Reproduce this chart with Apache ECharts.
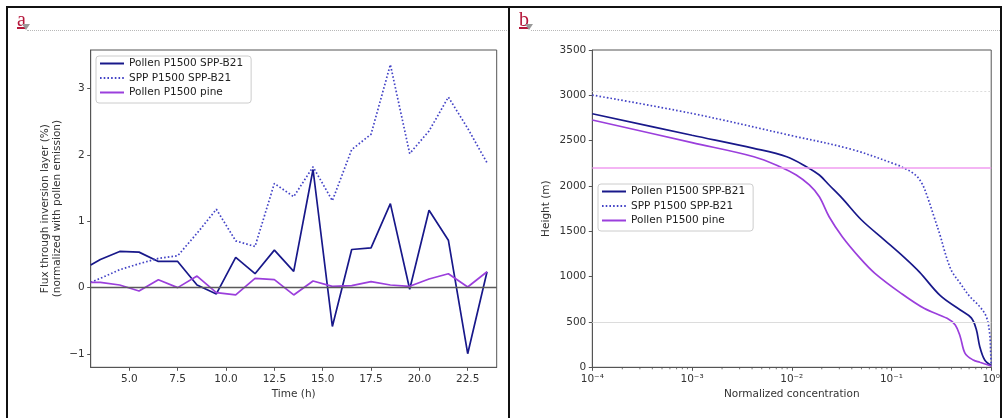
<!DOCTYPE html>
<html><head><meta charset="utf-8">
<script src="https://cdn.jsdelivr.net/npm/echarts@6/dist/echarts.min.js"></script>
<style>
html,body{margin:0;padding:0;background:#fff;width:1003px;height:418px;overflow:hidden;}
#chart{position:absolute;left:0;top:0;width:1003px;height:418px;}
.ln{position:absolute;background:#111;}
.lbl{position:absolute;font-family:'Liberation Serif',serif;font-size:20px;color:#b5173b;text-decoration:underline;line-height:20px;}
.tri{position:absolute;width:0;height:0;border-left:4px solid transparent;border-right:4px solid transparent;border-top:6px solid #9a9a9a;}
.dot{position:absolute;height:0;border-top:1px dotted #b8b8b8;}
</style></head><body>
<div id="chart"></div>
<div class="dot" style="left:27px;top:30px;width:480px;"></div>
<div class="dot" style="left:531px;top:30px;width:469px;"></div>
<div class="lbl" style="left:17px;top:9px;">a</div>
<div class="tri" style="left:22px;top:24px;"></div>
<div class="lbl" style="left:519px;top:9px;">b</div>
<div class="tri" style="left:525px;top:24px;"></div>
<div style="position:absolute;left:1002px;top:0;width:2px;height:418px;background:#fff;"></div>
<div class="ln" style="left:6px;top:6px;width:996px;height:2px;"></div>
<div class="ln" style="left:6px;top:6px;width:2px;height:420px;"></div>
<div class="ln" style="left:508px;top:6px;width:1.5px;height:420px;"></div>
<div class="ln" style="left:1000px;top:6px;width:2px;height:420px;"></div>
<script>
// ---- Panel a: flux through inversion layer ----
const hours = [3.0, 3.5, 4.5, 5.5, 6.5, 7.5, 8.5, 9.5, 10.5, 11.5, 12.5, 13.5, 14.5, 15.5, 16.5, 17.5, 18.5, 19.5, 20.5, 21.5, 22.5, 23.5];
const fluxPollenSppB21 = [0.34, 0.425, 0.545, 0.535, 0.395, 0.395, 0.04, -0.095, 0.455, 0.21, 0.565, 0.245, 1.78, -0.585, 0.575, 0.6, 1.265, -0.025, 1.165, 0.715, -0.995, 0.24];
const fluxSppSppB21 = [0.08, 0.14, 0.27, 0.36, 0.44, 0.48, 0.82, 1.18, 0.705, 0.62, 1.57, 1.37, 1.82, 1.31, 2.08, 2.31, 3.36, 2.02, 2.36, 2.87, 2.4, 1.88];
const fluxPollenPine = [0.08, 0.08, 0.04, -0.05, 0.12, 0.0, 0.175, -0.075, -0.11, 0.14, 0.12, -0.11, 0.1, 0.02, 0.03, 0.09, 0.04, 0.02, 0.13, 0.21, 0.01, 0.24];
const timeTicks = [5, 7.5, 10, 12.5, 15, 17.5, 20, 22.5];
const fluxTicks = [-1, 0, 1, 2, 3];

// ---- Panel b: vertical profiles ----
const concPollenSppB21 = [0.0001, 0.001, 0.00417, 0.00891, 0.014, 0.0189, 0.0237, 0.0321, 0.0501, 0.0851, 0.135, 0.191, 0.309, 0.49, 0.631, 0.708, 0.767, 0.861, 1.0];
const heightPollenSppB21 = [2797, 2560, 2415, 2323, 2213, 2121, 2011, 1864, 1625, 1404, 1210, 1050, 790, 632, 545, 420, 230, 80, 20];
const concSppSppB21 = [0.0001, 0.001, 0.01, 0.0398, 0.115, 0.135, 0.158, 0.182, 0.204, 0.229, 0.267, 0.31, 0.339, 0.372, 0.407, 0.489, 0.612, 0.769, 0.893, 0.964, 0.989, 1.0];
const heightSppSppB21 = [3003, 2800, 2555, 2404, 2231, 2195, 2155, 2100, 2020, 1882, 1661, 1441, 1290, 1150, 1050, 926, 779, 668, 558, 375, 150, 15];
const concPollenPine = [0.0001, 0.001, 0.00417, 0.00762, 0.0111, 0.015, 0.0189, 0.0237, 0.0321, 0.0486, 0.0682, 0.125, 0.212, 0.361, 0.436, 0.489, 0.547, 0.661, 0.769, 1.0];
const heightPollenPine = [2728, 2478, 2323, 2213, 2121, 2011, 1882, 1661, 1441, 1202, 1037, 816, 651, 540, 467, 338, 154, 80, 55, 14];
const inversionHeight = 2200;
const refLineHeights = [500, 3050];
const concTickLabels = ['10\u207B\u2074', '10\u207B\u00B3', '10\u207B\u00B2', '10\u207B\u00B9', '10\u2070'];
const concMinorTicks = [];
for (let d = -4; d < 0; d++) for (let k = 2; k <= 9; k++) concMinorTicks.push(k * Math.pow(10, d));

const names = ['Pollen P1500 SPP-B21', 'SPP P1500 SPP-B21', 'Pollen P1500 pine'];
const colors = ['#18188a', '#4343c6', '#9b3fdc'];
const FONT = 'DejaVu Sans';
const AX = '#555';
const TXT = '#333';

function zip(a, b) { return a.map((v, i) => [v, b[i]]); }
function minus(v) { return v < 0 ? '\u2212' + Math.abs(v) : String(v); }

const axisCommon = {
  axisLine: { show: true, onZero: false, lineStyle: { color: AX, width: 1 } },
  axisTick: { show: true, length: 3.5, lineStyle: { color: AX, width: 1 } },
  axisLabel: { fontFamily: FONT, fontSize: 10.5, color: TXT, margin: 6 },
  splitLine: { show: false },
  nameTextStyle: { fontFamily: FONT, fontSize: 10.5, color: TXT }
};
function ax(extra) {
  const o = JSON.parse(JSON.stringify(axisCommon));
  for (const k in extra) {
    if (typeof extra[k] === 'object' && !Array.isArray(extra[k]) && o[k]) Object.assign(o[k], extra[k]);
    else o[k] = extra[k];
  }
  return o;
}
const legendCommon = {
  orient: 'vertical', itemWidth: 24, itemHeight: 12, itemGap: 3.5,
  padding: [2, 8, 5, 3], backgroundColor: '#fff', borderColor: '#ccc', borderWidth: 1, borderRadius: 3,
  itemStyle: { opacity: 0, color: 'rgba(0,0,0,0)', borderColor: 'rgba(0,0,0,0)', borderWidth: 0 },
  textStyle: { fontFamily: FONT, fontSize: 10.5, color: '#222' }, selectedMode: false, data: names
};

const chart = echarts.init(document.getElementById('chart'), null, { renderer: 'canvas' });
const xa = ax({ gridIndex: 0, type: 'value', min: 3, max: 24,
  name: 'Time (h)', nameLocation: 'middle', nameGap: 20 });
xa.axisTick.customValues = timeTicks;
xa.axisLabel.customValues = timeTicks;
xa.axisLabel.formatter = v => v.toFixed(1);
const ya = ax({ gridIndex: 0, type: 'value', min: -1.2, max: 3.58,
  name: 'Flux through inversion layer (%)\n(normalized with pollen emission)', nameLocation: 'middle', nameGap: 27 });
ya.axisTick.customValues = fluxTicks;
ya.axisLabel.customValues = fluxTicks;
ya.axisLabel.formatter = v => minus(v);
ya.nameTextStyle.lineHeight = 12;
const xb = ax({ gridIndex: 1, type: 'log', logBase: 10, min: 0.0001, max: 1,
  name: 'Normalized concentration', nameLocation: 'middle', nameGap: 20 });
xb.axisLabel.formatter = v => concTickLabels[Math.round(Math.log10(v)) + 4];
const yb = ax({ gridIndex: 1, type: 'value', min: 0, max: 3500, interval: 500,
  name: 'Height (m)', nameLocation: 'middle', nameGap: 41 });
yb.axisLabel.formatter = v => String(v);

function lineSeries(i, xi, data, smooth) {
  return {
    name: names[i], type: 'line', xAxisIndex: xi, yAxisIndex: xi, data: data,
    symbol: 'none', smooth: smooth, animation: false,
    lineStyle: { color: colors[i], width: 1.7, type: i === 1 ? [1.6, 2.1] : 'solid', cap: 'butt' },
    itemStyle: { color: colors[i] }
  };
}
const sA = [
  lineSeries(0, 0, zip(hours, fluxPollenSppB21), false),
  lineSeries(1, 0, zip(hours, fluxSppSppB21), false),
  lineSeries(2, 0, zip(hours, fluxPollenPine), false)
];
sA[0].markLine = { silent: true, symbol: ['none', 'none'], label: { show: false }, animation: false,
  lineStyle: { color: '#5a5a5a', width: 1.3, type: 'solid' }, data: [{ yAxis: 0 }] };
const sB = [
  lineSeries(0, 1, zip(concPollenSppB21, heightPollenSppB21), 0.35),
  lineSeries(1, 1, zip(concSppSppB21, heightSppSppB21), 0.35),
  lineSeries(2, 1, zip(concPollenPine, heightPollenPine), 0.35)
];
sB[0].markLine = { silent: true, symbol: ['none', 'none'], label: { show: false }, animation: false,
  data: [
    { yAxis: inversionHeight, lineStyle: { color: '#f09cf0', width: 1.5, type: 'solid' } },
    { yAxis: refLineHeights[0], lineStyle: { color: '#dcdcdc', width: 1, type: 'solid' } },
    { yAxis: refLineHeights[1], lineStyle: { color: '#dcdcdc', width: 1, type: [2, 2] } }
  ] };
const minorSeries = {
  type: 'custom', xAxisIndex: 1, yAxisIndex: 1, silent: true, clip: false, animation: false,
  data: concMinorTicks.map(v => [v, 0]),
  renderItem: function (params, api) {
    const p = api.coord([api.value(0), 0]);
    return { type: 'line', shape: { x1: p[0], y1: p[1], x2: p[0], y2: p[1] + 2 }, style: { stroke: AX, lineWidth: 0.8 } };
  }
};

chart.setOption({
  animation: false,
  textStyle: { fontFamily: FONT },
  grid: [
    { left: 90.7, top: 50, width: 406, height: 317.3, show: true, borderColor: AX, borderWidth: 1, backgroundColor: 'transparent' },
    { left: 592.3, top: 50, width: 406, height: 317.3, show: true, borderColor: AX, borderWidth: 1, backgroundColor: 'transparent' }
  ],
  xAxis: [xa, xb],
  yAxis: [ya, yb],
  legend: [
    Object.assign({}, legendCommon, { left: 96, top: 56 }),
    Object.assign({}, legendCommon, { left: 598, top: 184 })
  ],
  series: sA.concat(sB).concat([minorSeries])
});
</script>
</body></html>
